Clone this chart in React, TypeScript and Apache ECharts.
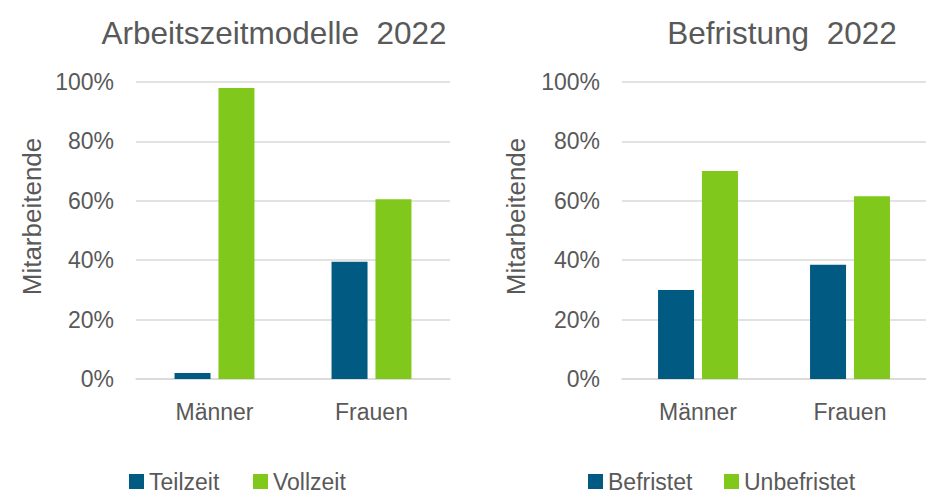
import React, { useEffect, useRef } from "react";
import * as echarts from "echarts";

const categories = ["Männer", "Frauen"];
const teilzeit = [2, 39.5];
const vollzeit = [98, 60.5];
const befristet = [30, 38.5];
const unbefristet = [70, 61.5];
const yTicks = { min: 0, max: 100, interval: 20 };
const titles = ["Arbeitszeitmodelle  2022", "Befristung  2022"];
const yName = "Mitarbeitende";

const BLUE = "#005A82";
const GREEN = "#80C81B";
const TEXT = "#595959";
const GRID = "#D9D9D9";
const FONT = "'Liberation Sans', Arial, sans-serif";

export default function App() {
  const ref = useRef<HTMLDivElement>(null);
  useEffect(() => {
    if (!ref.current) return;
    const chart = echarts.init(ref.current, null, { renderer: "svg" });
    const yAxisBase = (gridIndex: number) => ({
      type: "value",
      gridIndex,
      min: yTicks.min,
      max: yTicks.max,
      interval: yTicks.interval,
      axisLine: { show: false },
      axisTick: { show: false },
      axisLabel: { formatter: "{value}%", fontSize: 23, color: TEXT, margin: 22, fontFamily: FONT },
      splitLine: { lineStyle: { color: GRID, width: 1.5 } },
    });
    const xAxisBase = (gridIndex: number) => ({
      type: "category",
      gridIndex,
      data: categories,
      axisLine: { lineStyle: { color: GRID, width: 1.5 } },
      axisTick: { show: false },
      axisLabel: { fontSize: 23, color: TEXT, margin: 21, fontFamily: FONT },
    });
    const bar = (name: string, data: number[], color: string, idx: number) => ({
      name,
      type: "bar",
      xAxisIndex: idx,
      yAxisIndex: idx,
      data,
      barWidth: 36,
      barGap: "22%",
      itemStyle: { color },
    });
    const legend = (name: string, left: number) => ({
      data: [name],
      left,
      top: 470,
      padding: 0,
      icon: "rect",
      itemWidth: 15,
      itemHeight: 15,
      selectedMode: false,
      textStyle: { fontSize: 23, lineHeight: 22, color: TEXT, fontFamily: FONT },
    });
    const titleStyle = { fontSize: 31.5, fontWeight: "normal", color: TEXT, fontFamily: FONT };
    chart.setOption({
      animation: false,
      textStyle: { fontFamily: FONT },
      title: [
        { text: titles[0], left: 269, top: 12, textAlign: "center", textStyle: titleStyle },
        { text: titles[1], left: 777, top: 12, textAlign: "center", textStyle: titleStyle },
      ],
      grid: [
        { left: 136, top: 82, width: 314, height: 297 },
        { left: 622, top: 82, width: 314, height: 297 },
      ],
      xAxis: [xAxisBase(0), xAxisBase(1)],
      yAxis: [yAxisBase(0), yAxisBase(1)],
      legend: [
        legend("Teilzeit", 129),
        legend("Vollzeit", 253),
        legend("Befristet", 588),
        legend("Unbefristet", 724),
      ],
      series: [
        bar("Teilzeit", teilzeit, BLUE, 0),
        bar("Vollzeit", vollzeit, GREEN, 0),
        bar("Befristet", befristet, BLUE, 1),
        bar("Unbefristet", unbefristet, GREEN, 1),
      ],
      graphic: [
        { type: "text", x: 32, y: 216.5, rotation: Math.PI / 2, style: { text: yName, fontSize: 26, fill: TEXT, fontFamily: FONT, align: "center", verticalAlign: "middle" } },
        { type: "text", x: 516, y: 216.5, rotation: Math.PI / 2, style: { text: yName, fontSize: 26, fill: TEXT, fontFamily: FONT, align: "center", verticalAlign: "middle" } },
      ],
    });
    return () => chart.dispose();
  }, []);
  return <div ref={ref} style={{ position: "fixed", left: 0, top: 0, width: 926, height: 493, background: "#fff" }} />;
}
